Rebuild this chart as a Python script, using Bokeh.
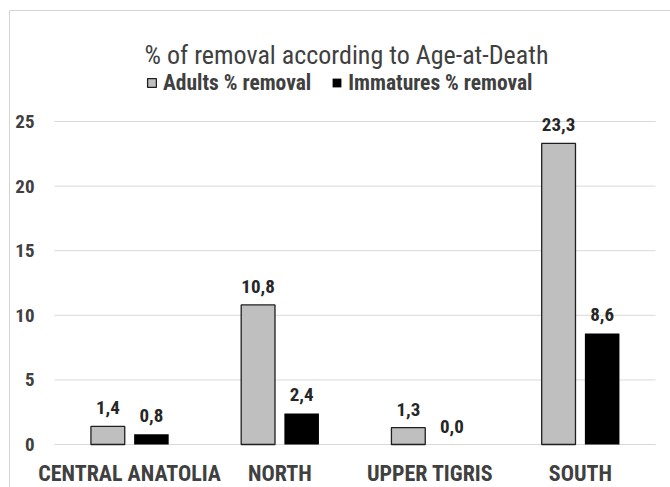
from bokeh.plotting import figure
from bokeh.models import ColumnDataSource, Range1d, Label, LabelSet, Legend, LegendItem
from bokeh.core.properties import value
from bokeh.transform import dodge
from bokeh.embed import file_html
from bokeh.resources import INLINE

categories = ["CENTRAL ANATOLIA", "NORTH", "UPPER TIGRIS", "SOUTH"]
adults = [1.4, 10.8, 1.3, 23.3]
immatures = [0.8, 2.4, 0.0, 8.6]
y_ticks = [0, 5, 10, 15, 20, 25]
title_text = "% of removal according to Age-at-Death"
series_names = ["Adults % removal", "Immatures % removal"]

FONT = "Roboto Condensed"
W, H = 670, 487
# plot area in pixels: categories span x 54..655, values 0..25 span y 444..121
PX_L, PX_R, PX_0, PX_25 = 54, 655, 444, 121
ncat = len(categories)
sx = (PX_R - PX_L) / ncat
sy = (PX_0 - PX_25) / y_ticks[-1]

def px_x(px):
    return (px - PX_L) / sx

def px_y(py):
    return (PX_0 - py) / sy

def fmt(v):
    return f"{v:.1f}".replace(".", ",")

src = ColumnDataSource(dict(
    x=[i + 0.5 for i in range(ncat)],
    cat=categories,
    zero=[0] * ncat,
    adults=adults,
    immatures=immatures,
    adults_lbl=[fmt(v) for v in adults],
    imm_lbl=[fmt(v) for v in immatures],
))
tick_src = ColumnDataSource(dict(y=y_ticks, x0=[0] * len(y_ticks), x1=[ncat] * len(y_ticks),
                                 lbl=[str(t) for t in y_ticks]))

p = figure(x_range=Range1d(px_x(0), px_x(W)), y_range=Range1d(px_y(H), px_y(0)),
           width=W, height=H, output_backend="svg", toolbar_location=None,
           min_border_left=0, min_border_right=0, min_border_top=0, min_border_bottom=0)
p.outline_line_color = None
p.title.text = ""
p.axis.visible = False
p.grid.visible = False

# outer chart frame (left and top edges)
p.segment(x0=[px_x(9), px_x(9)], y0=[px_y(10), px_y(10)], x1=[px_x(9), px_x(W)], y1=[px_y(H), px_y(10)],
          line_color="#d4d4d4", line_width=1)

# gridlines
p.segment(x0="x0", x1="x1", y0="y", y1="y", source=tick_src, line_color="#d9d9d9", line_width=1)
p.add_layout(LabelSet(x="x0", y="y", text="lbl", source=tick_src, x_offset=-20,
                      text_align="right", text_baseline="middle",
                      text_font=value(FONT), text_font_style="bold", text_font_size="19px",
                      text_color="#404040"))

r1 = p.vbar(x=dodge("x", -0.145), top="adults", width=0.225, source=src,
            fill_color="#bfbfbf", line_color="#1f1f1f", line_width=1.3)
r2 = p.vbar(x=dodge("x", 0.145), top="immatures", width=0.23, source=src,
            fill_color="#000000", line_color=None)

for col, lbl, off in (("adults", "adults_lbl", -0.145), ("immatures", "imm_lbl", 0.145)):
    p.add_layout(LabelSet(x=dodge("x", off), y=col, text=lbl, source=src,
                          text_align="center", text_baseline="alphabetic", y_offset=12,
                          text_font=value(FONT), text_font_style="bold", text_font_size="19px",
                          text_color="#262626"))

# category labels under the baseline
p.add_layout(LabelSet(x="x", y="zero", text="cat", source=src,
                      text_align="center", text_baseline="alphabetic", y_offset=-36,
                      text_font=value(FONT), text_font_style="bold", text_font_size="22px",
                      text_color="#404040"))

p.add_layout(Label(x=346, y=H - 54, x_units="screen", y_units="screen", text=title_text,
                   text_align="center", text_baseline="alphabetic",
                   text_font=FONT, text_font_size="26px", text_color="#404040"))

legend = Legend(items=[LegendItem(label=series_names[0], renderers=[r1]),
                       LegendItem(label=series_names[1], renderers=[r2])],
                location=(146, H - 95), orientation="horizontal",
                glyph_width=11, glyph_height=11, label_standoff=6, spacing=20,
                padding=0, margin=0, border_line_color=None, background_fill_alpha=0,
                label_text_font=FONT, label_text_font_style="bold", label_text_font_size="21.5px",
                label_text_color="#404040", label_height=20)
p.add_layout(legend)

open("out.html", "w").write(file_html(p, INLINE))
